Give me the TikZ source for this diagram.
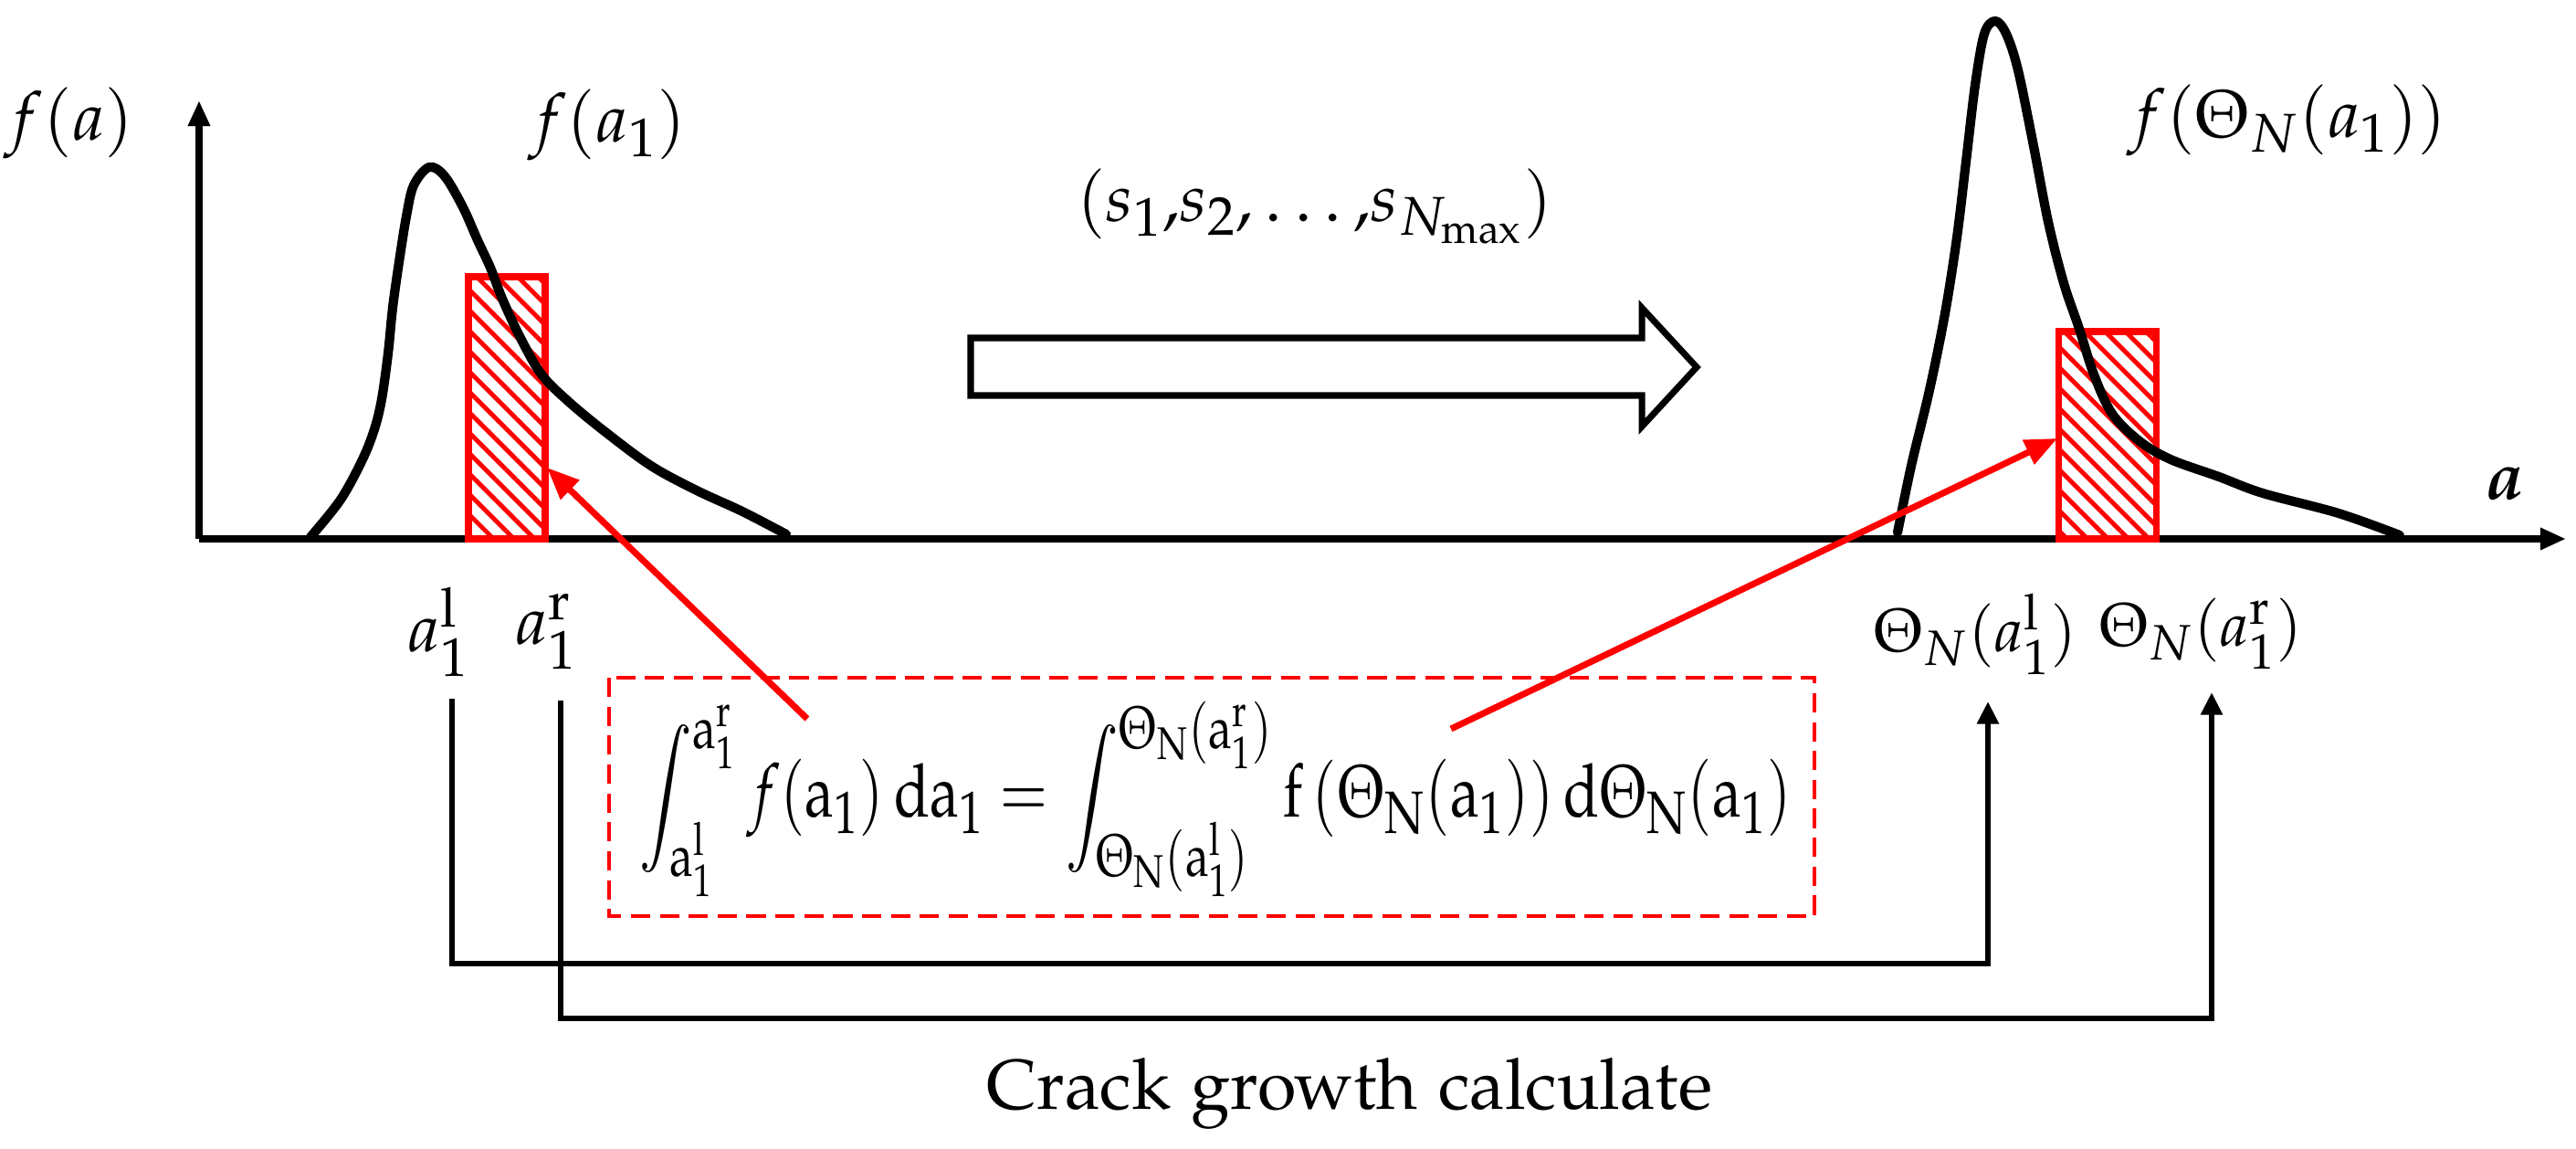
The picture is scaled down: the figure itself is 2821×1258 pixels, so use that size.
\documentclass[tikz,border=0pt]{standalone}
\usepackage{amsmath}
\usepackage{mathpazo}
\usepackage{graphicx}
\usetikzlibrary{arrows.meta,patterns.meta}
\DeclareMathSizes{21}{21}{17}{13}
\newcommand\lblfont{\fontsize{21}{25}\selectfont}
\newcommand\txtfont{\usefont{OT1}{pplx}{m}{n}\fontsize{22}{26}\selectfont}
\tikzset{
  lbl/.style={inner sep=0pt, font=\lblfont},
  axisline/.style={line width=2.3pt, -{Triangle[length=8pt,width=6.5pt]}},
  pdfcurve/.style={line width=2.9pt, line join=round, line cap=round},
  hatchbox/.style={draw=red, line width=2pt, pattern={Lines[angle=-45,distance=4.5pt,line width=1.4pt]}, pattern color=red},
  redarrow/.style={red, line width=2pt, -{Triangle[length=10pt,width=8pt]}},
  mapline/.style={line width=1.8pt, -{Triangle[length=7pt,width=6.5pt]}},
  eqbox/.style={draw=red, dash pattern=on 6pt off 3pt, line width=1.3pt},
  hollow/.style={draw, line width=2pt, fill=white, line join=miter}
}
\begin{document}
\begin{tikzpicture}[x=0.01cm, y=-0.01cm]
\useasboundingbox[fill=white] (0,0) rectangle (2821,1258);

% axes
\coordinate (O) at (218,590);
\coordinate (Ytip) at (218,110);
\coordinate (Xtip) at (2810,590);
\draw[axisline] (O) -- (Ytip);
\draw[axisline] (O) -- (Xtip);

% hatched rectangles
\draw[hatchbox] (513,590) rectangle (597,303);
\draw[hatchbox] (2254,590) rectangle (2361,363);

% left pdf
\draw[pdfcurve] plot[smooth, tension=0.55] coordinates {
 (340,588) (373,547) (397,503) (410,470) (418,437) (425,387) (430,337)
 (437,287) (445,237) (453,203) (470,183) (487,193) (507,227) (523,263)
 (537,293) (550,327) (570,370) (593,410) (623,440) (663,473) (713,510)
 (763,537) (813,560) (861,585)};

% right pdf
\draw[pdfcurve] plot[smooth, tension=0.55] coordinates {
 (2078,583) (2093,510) (2113,427) (2130,343) (2143,260) (2153,177)
 (2163,93) (2173,37) (2185,23) (2197,37) (2210,77) (2227,160)
 (2243,243) (2260,310) (2277,360) (2293,410) (2313,453) (2343,483)
 (2377,503) (2430,522) (2478,540) (2561,562) (2628,586)};

% labels
\node[lbl] (fa) at (76,135) {$f(a)$};
\node[lbl] (fa1) at (665,137) {$f(a_1)$};
\node[lbl] (sseq) at (1440,226) {$(s_1{,}s_2{,}\ldots{,}s_{N_{\max}})$};
\node[lbl] (fth) at (2505,132) {$f(\Theta_N(a_1))$};
\node[lbl] (ax) at (2742,530) {$\boldsymbol{a}$};
\node[lbl] (al) at (480,692) {$a_1^{\mathrm{l}}$};
\node[lbl] (ar) at (598,692) {$a_1^{\mathrm{r}}$};
\node[lbl] (thl) at (2163,694) {\scalebox{0.91}{$\Theta_N(a_1^{\mathrm{l}})$}};
\node[lbl] (thr) at (2410,694) {\scalebox{0.91}{$\Theta_N(a_1^{\mathrm{r}})$}};
\node[inner sep=0pt, font=\txtfont] (cg) at (1478,1197) {Crack growth calculate};

% hollow arrow
\draw[hollow] (1063,370) -- (1798,370) -- (1798,337) -- (1858,402) -- (1798,467) -- (1798,433) -- (1063,433) -- cycle;

% equation box
\draw[eqbox] (667,742) rectangle (1987,1003);
\node[inner sep=0pt, font=\lblfont] (eq) at (1331,875) {\resizebox*{359pt}{61pt}{$\displaystyle
 \int_{\mathrm{a}_1^{\mathrm{l}}}^{\mathrm{a}_1^{\mathrm{r}}} f(\mathrm{a}_1)\,\mathrm{da}_1
 = \int_{\Theta_{\mathrm{N}}(\mathrm{a}_1^{\mathrm{l}})}^{\Theta_{\mathrm{N}}(\mathrm{a}_1^{\mathrm{r}})}
 \mathrm{f}\left(\Theta_{\mathrm{N}}(\mathrm{a}_1)\right)\mathrm{d}\Theta_{\mathrm{N}}(\mathrm{a}_1)$}};

% red arrows
\coordinate (r1s) at (884,787);
\coordinate (r1t) at (599,512);
\coordinate (r2s) at (1589,798);
\coordinate (r2t) at (2253,480);
\draw[redarrow] (r1s) -- (r1t);
\draw[redarrow] (r2s) -- (r2t);

% mapping lines
\coordinate (p1) at (495,765);
\coordinate (q1) at (2177,768);
\coordinate (p2) at (614,767);
\coordinate (q2) at (2422,758);
\draw[mapline] (p1) -- (495,1055) -| (q1);
\draw[mapline] (p2) -- (614,1115) -| (q2);
\end{tikzpicture}
\end{document}
